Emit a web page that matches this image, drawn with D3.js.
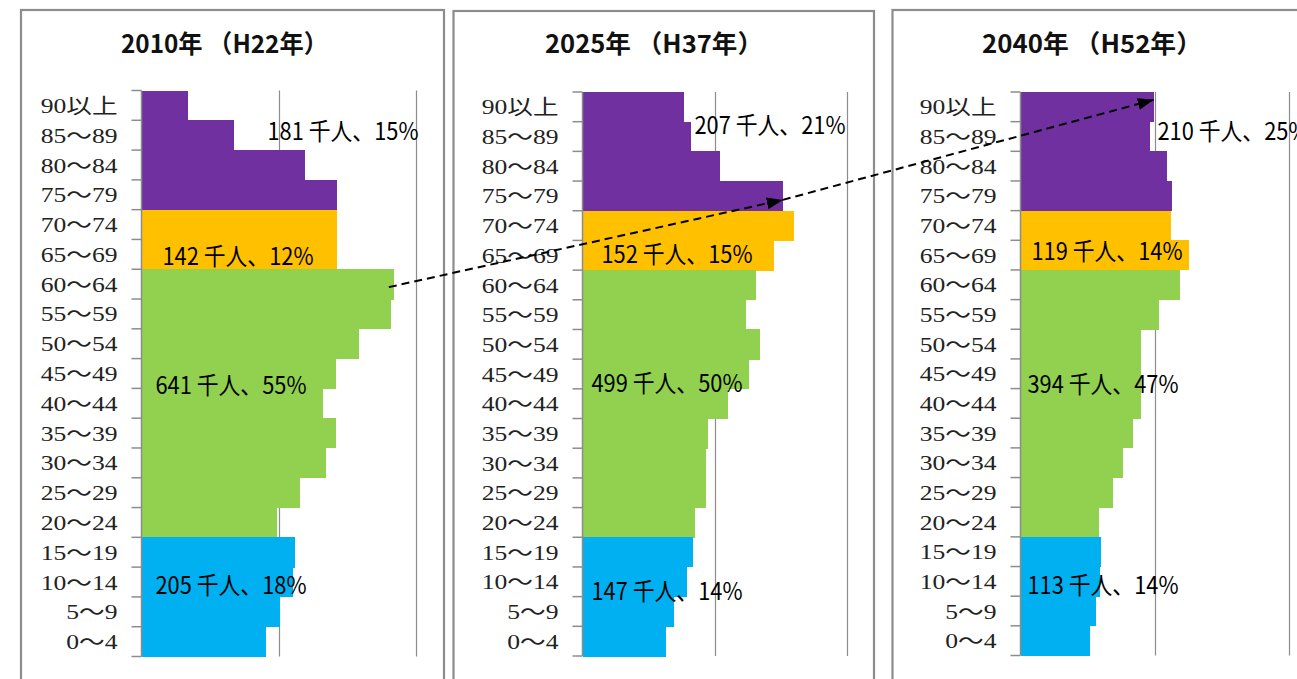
<!DOCTYPE html>
<html>
<head>
<meta charset="utf-8">
<script src="https://cdn.jsdelivr.net/npm/d3@7"></script>
<style>
  body { margin: 0; background: #fff; overflow: hidden; }
</style>
</head>
<body>
<svg id="chart" width="1297" height="679"></svg>
<script>

// age groups, top to bottom
var ages = ["90以上","85～89","80～84","75～79","70～74","65～69","60～64","55～59","50～54","45～49",
            "40～44","35～39","30～34","25～29","20～24","15～19","10～14","5～9","0～4"];

// population per age group (thousand people)
var pop2010 = [17.0, 33.8, 59.6, 71.2, 71.5, 71.2, 92.1, 91.0, 79.4, 71.0, 66.3, 71.0, 67.4, 58.0, 49.3, 56.0, 55.2, 50.5, 45.3];
var pop2025 = [38.4, 41.0, 52.0, 75.7, 80.0, 72.4, 65.6, 61.9, 67.2, 63.0, 55.1, 47.5, 46.8, 46.8, 42.6, 41.7, 39.6, 34.7, 31.6];
var pop2040 = [49.7, 48.5, 54.7, 56.7, 56.2, 62.9, 59.7, 51.7, 45.0, 45.0, 45.0, 42.0, 38.1, 34.6, 29.4, 29.9, 29.5, 28.0, 26.1];

// 0 = 75+, 1 = 65-74, 2 = 20-64, 3 = 0-19
var groupOfAge = [0,0,0,0,1,1,2,2,2,2,2,2,2,2,2,3,3,3,3];
var groupColors = ["#7030A0", "#FFC000", "#92D050", "#00B0F0"];

var titles = ["2010年 （H22年）", "2025年 （H37年）", "2040年 （H52年）"];
var labels2010 = ["181 千人、15%", "142 千人、12%", "641 千人、55%", "205 千人、18%"];
var labels2025 = ["207 千人、21%", "152 千人、15%", "499 千人、50%", "147 千人、14%"];
var labels2040 = ["210 千人、25%", "119 千人、14%", "394 千人、47%", "113 千人、14%"];
var gridValues = [50, 100];

var series = [pop2010, pop2025, pop2040];
var groupLabels = [labels2010, labels2025, labels2040];

// layout of the three boxes
var panels = [
  {left: 21,    right: 444,  top: 10, axis: 141.5, step: 137, y0: 90.5, y1: 656.5, titleX: 121, titleW: 207,
   lab: [[126, 140], [21, 265], [14, 394], [14, 594]]},
  {left: 453.5, right: 874,  top: 11, axis: 582.5, step: 132.3, y0: 92, y1: 656, titleX: 545, titleW: 218,
   lab: [[112, 134], [19, 263], [9, 392], [9, 600]]},
  {left: 892.5, right: 1330, top: 10, axis: 1020.5, step: 134, y0: 92, y1: 655.5, titleX: 982, titleW: 220,
   lab: [[137, 140], [11, 260], [7, 393], [7, 594]]}
];

var svg = d3.select("#chart");

var defs = svg.append("defs");
defs.append("marker")
    .attr("id", "arrow")
    .attr("viewBox", "0 0 16 12")
    .attr("refX", 16)
    .attr("refY", 6)
    .attr("markerWidth", 16)
    .attr("markerHeight", 12)
    .attr("markerUnits", "userSpaceOnUse")
    .attr("orient", "auto")
  .append("path")
    .attr("d", "M0,0 L16,6 L0,12 Z")
    .attr("fill", "black");

var scales = [];

panels.forEach(function(p, k){

  var g = svg.append("g");

  // box
  g.append("rect")
    .attr("x", p.left).attr("y", p.top)
    .attr("width", p.right - p.left).attr("height", 720)
    .attr("fill", "none")
    .attr("stroke", "#8c8c8c")
    .attr("stroke-width", 2.2);

  g.append("text")
    .attr("x", p.titleX).attr("y", 53)
    .attr("font-family", "'Noto Sans CJK JP', sans-serif")
    .attr("font-weight", "bold")
    .attr("font-size", 25)
    .attr("textLength", p.titleW)
    .attr("lengthAdjust", "spacingAndGlyphs")
    .attr("fill", "#111")
    .text(titles[k]);

  var x = d3.scaleLinear().domain([0, 100]).range([p.axis, p.axis + 2 * p.step]);
  var y = d3.scaleBand().domain(ages).range([p.y0, p.y1]).padding(0);
  scales.push({x: x, y: y});

  // grid lines
  g.append("g").selectAll("line")
    .data(gridValues)
    .enter().append("line")
    .attr("x1", d => Math.round(x(d)) + 0.5).attr("x2", d => Math.round(x(d)) + 0.5)
    .attr("y1", p.y0).attr("y2", p.y1)
    .attr("stroke", "#8c8c8c")
    .attr("stroke-width", 1.2);

  // bars
  g.append("g").selectAll("rect")
    .data(series[k])
    .enter().append("rect")
    .attr("x", x(0))
    .attr("y", (d, i) => y(ages[i]))
    .attr("width", d => x(d) - x(0))
    .attr("height", y.bandwidth() + 0.5)
    .attr("fill", (d, i) => groupColors[groupOfAge[i]])
    .attr("shape-rendering", "crispEdges");

  // category axis: labels from d3 axis, ticks between categories
  var ax = g.append("g")
    .attr("transform", "translate(" + p.axis + ",0)")
    .call(d3.axisLeft(y).tickSize(0).tickPadding(0));
  ax.select(".domain").remove();
  ax.selectAll("text")
    .attr("x", 0)
    .attr("dy", "0.36em")
    .attr("transform", "translate(-24,0) scale(1.22,1)")
    .attr("font-family", "'Liberation Serif', 'Noto Sans CJK JP', serif")
    .attr("font-size", 21)
    .attr("fill", "#222")
    .attr("text-anchor", "end");

  var bounds = ages.map(a => y(a)).concat([p.y1]);
  g.append("g").selectAll("line")
    .data(bounds)
    .enter().append("line")
    .attr("x1", p.axis - 10).attr("x2", p.axis)
    .attr("y1", d => d).attr("y2", d => d)
    .attr("stroke", "#8c8c8c")
    .attr("stroke-width", 1.5);

  g.append("line")
    .attr("x1", p.axis).attr("x2", p.axis)
    .attr("y1", p.y0).attr("y2", p.y1)
    .attr("stroke", "#8c8c8c")
    .attr("stroke-width", 1.5);

  // group totals
  g.append("g").selectAll("text")
    .data(groupLabels[k])
    .enter().append("text")
    .attr("x", (d, i) => p.axis + p.lab[i][0])
    .attr("y", (d, i) => p.lab[i][1])
    .attr("font-family", "'Noto Sans CJK JP', sans-serif")
    .attr("font-size", 24)
    .attr("textLength", 151)
    .attr("lengthAdjust", "spacingAndGlyphs")
    .attr("fill", "black")
    .text(d => d);
});

// dashed arrows following the 60-64 cohort
function barEnd(k, age, dx, dy){
  var s = scales[k];
  var i = ages.indexOf(age);
  return [s.x(series[k][i]) + dx, s.y(age) + s.y.bandwidth() / 2 + dy];
}

var arrows = [
  [barEnd(0, "60～64", -5, 3), barEnd(1, "75～79", 0, 4)],
  [barEnd(1, "75～79", 0, 4), barEnd(2, "90以上", 0, -7)]
];

svg.append("g").selectAll("line")
  .data(arrows)
  .enter().append("line")
  .attr("x1", d => d[0][0]).attr("y1", d => d[0][1])
  .attr("x2", d => d[1][0]).attr("y2", d => d[1][1])
  .attr("stroke", "black")
  .attr("stroke-width", 2)
  .attr("stroke-dasharray", "8,5")
  .attr("marker-end", "url(#arrow)");

</script>
</body>
</html>
